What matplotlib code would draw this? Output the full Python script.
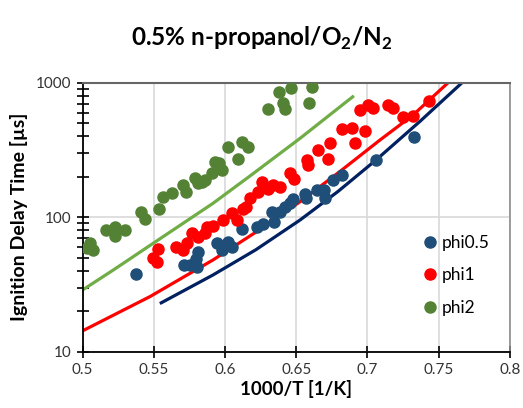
import matplotlib
matplotlib.use("Agg")
import matplotlib.pyplot as plt
from matplotlib.ticker import LogLocator, NullFormatter, FixedLocator

plt.rcParams["font.family"] = ["Lato", "DejaVu Sans"]
plt.rcParams["mathtext.fontset"] = "custom"
plt.rcParams["mathtext.rm"] = "Lato"
plt.rcParams["mathtext.bf"] = "Lato:bold"

# measured ignition delay times, 1000/T [1/K] vs tau [us]
phi05_x = [0.5374, 0.5713, 0.5753, 0.5800, 0.5812, 0.5795, 0.5941, 0.5976,
           0.6022, 0.6046, 0.6116, 0.6222, 0.6268, 0.6327, 0.6343, 0.6385,
           0.6420, 0.6456, 0.6479, 0.6561, 0.6571, 0.6643, 0.6694, 0.6701,
           0.6760, 0.6818, 0.7059, 0.7330]
phi05_y = [37.6, 44.1, 44.1, 42.9, 55.4, 48.9, 64.0, 57.0,
           65.7, 60.4, 81.7, 85.3, 89.0, 109.9, 92.1, 109.9,
           119.7, 126.9, 136.6, 148.8, 138.2, 159.3, 159.3, 138.2,
           189.1, 206.0, 267.7, 394.7]

phi1_x = [0.5496, 0.5525, 0.5532, 0.5659, 0.5704, 0.5732, 0.5765, 0.5812,
          0.5859, 0.5871, 0.5915, 0.5987, 0.6046, 0.6081, 0.6128, 0.6150,
          0.6175, 0.6233, 0.6257, 0.6301, 0.6336, 0.6385, 0.6456, 0.6484,
          0.6573, 0.6584, 0.6654, 0.6724, 0.6736, 0.6818, 0.6889, 0.6912,
          0.6982, 0.6947, 0.7005, 0.7040, 0.7146, 0.7179, 0.7251, 0.7317,
          0.7435]
phi1_y = [49.5, 46.7, 58.5, 60.0, 57.0, 64.0, 76.9, 71.3,
          75.9, 85.0, 86.8, 95.3, 108.4, 95.3, 115.1, 119.1,
          139.0, 154.7, 182.7, 163.4, 173.6, 167.7, 213.1, 194.0,
          266.2, 244.4, 316.0, 270.9, 359.4, 450.3, 458.0, 354.4,
          439.7, 632.0, 683.0, 645.0, 683.0, 654.0, 558.7, 570.0,
          735.0]

phi2_x = [0.5028, 0.5051, 0.5074, 0.5161, 0.5229, 0.5229, 0.5295, 0.5413,
          0.5437, 0.5536, 0.5566, 0.5630, 0.5706, 0.5725, 0.5788, 0.5812,
          0.5859, 0.5835, 0.5906, 0.5929, 0.5959, 0.5976, 0.6022, 0.6092,
          0.6121, 0.6163, 0.6301, 0.6378, 0.6406, 0.6420, 0.6462, 0.6589,
          0.6608]
phi2_y = [58.7, 64.0, 57.0, 80.3, 85.0, 72.5, 80.3, 109.3,
          97.0, 116.1, 140.6, 152.6, 173.6, 154.7, 194.7, 178.7,
          189.1, 183.0, 214.2, 258.6, 254.2, 224.4, 331.0, 270.9,
          364.0, 334.3, 634.0, 857.0, 703.0, 634.0, 921.0, 710.0,
          924.0]

# model predictions
sim05_x = [0.5552, 0.5915, 0.6217, 0.6526, 0.6792, 0.7059, 0.7368, 0.7663]
sim05_y = [23.1, 37.2, 57.4, 95.3, 155.3, 266.2, 516.4, 1000.0]
sim1_x = [0.5, 0.5473, 0.5915, 0.6217, 0.6526, 0.6806, 0.7087, 0.7319, 0.7565]
sim1_y = [14.3, 25.7, 48.1, 77.6, 130.4, 218.8, 375.0, 575.0, 1000.0]
sim2_x = [0.5, 0.5215, 0.5543, 0.5915, 0.6175, 0.6526, 0.6896]
sim2_y = [28.8, 40.5, 69.2, 126.9, 202.8, 386.0, 787.0]

fig = plt.figure(figsize=(5.23, 4.08), dpi=100)
ax = fig.add_axes([0.158, 0.138, 0.817, 0.659])

ax.plot(sim05_x, sim05_y, color="#002060", lw=2.3, zorder=2)
ax.plot(sim1_x, sim1_y, color="#FF0000", lw=2.3, zorder=2)
ax.plot(sim2_x, sim2_y, color="#70AD47", lw=2.3, zorder=2)

ax.plot(phi05_x, phi05_y, "o", color="#1F4E79", ms=8, label="phi0.5", zorder=3)
ax.plot(phi1_x, phi1_y, "o", color="#FF0000", ms=8, label="phi1", zorder=3)
ax.plot(phi2_x, phi2_y, "o", color="#548235", ms=8, label="phi2", zorder=3)

ax.set_yscale("log")
ax.set_xlim(0.5, 0.8)
ax.set_ylim(10, 1000)
ax.xaxis.set_major_locator(FixedLocator([0.5, 0.55, 0.6, 0.65, 0.7, 0.75, 0.8]))
ax.set_xticklabels(["0.5", "0.55", "0.6", "0.65", "0.7", "0.75", "0.8"])
ax.yaxis.set_major_locator(FixedLocator([10, 100, 1000]))
ax.set_yticklabels(["10", "100", "1000"])
ax.yaxis.set_minor_locator(LogLocator(base=10, subs=range(2, 10)))
ax.yaxis.set_minor_formatter(NullFormatter())

ax.tick_params(axis="both", which="major", direction="inout", length=9,
               width=1.2, labelsize=11, labelcolor="#333333")
ax.tick_params(axis="y", which="minor", direction="inout", length=9, width=1.2)
ax.tick_params(axis="x", which="minor", length=0)

ax.grid(True, axis="x", color="#D9D9D9", lw=1.2)
ax.grid(True, axis="y", which="major", color="#D9D9D9", lw=1.2)
ax.set_axisbelow(True)

for side in ("left", "bottom"):
    ax.spines[side].set_color("black")
    ax.spines[side].set_linewidth(1.3)
ax.spines["top"].set_color("#666666")
ax.spines["top"].set_linewidth(1.5)
ax.spines["right"].set_color("#8C8C8C")
ax.spines["right"].set_linewidth(1.2)

ax.set_xlabel("1000/T [1/K]", fontsize=13.5, fontweight="bold", labelpad=2)
ax.set_ylabel("Ignition Delay Time [µs]", fontsize=14, fontweight="bold", labelpad=6)
fig.text(0.5, 0.905, r"0.5% n-propanol/O$_\mathbf{2}$/N$_\mathbf{2}$",
         ha="center", va="center", fontsize=17.5, fontweight="bold")

ax.legend(loc="lower right", bbox_to_anchor=(0.99, 0.075), frameon=False,
          fontsize=12.5, handletextpad=0.1, labelspacing=0.95, handlelength=1.2)

fig.savefig("out.png", dpi=100)
